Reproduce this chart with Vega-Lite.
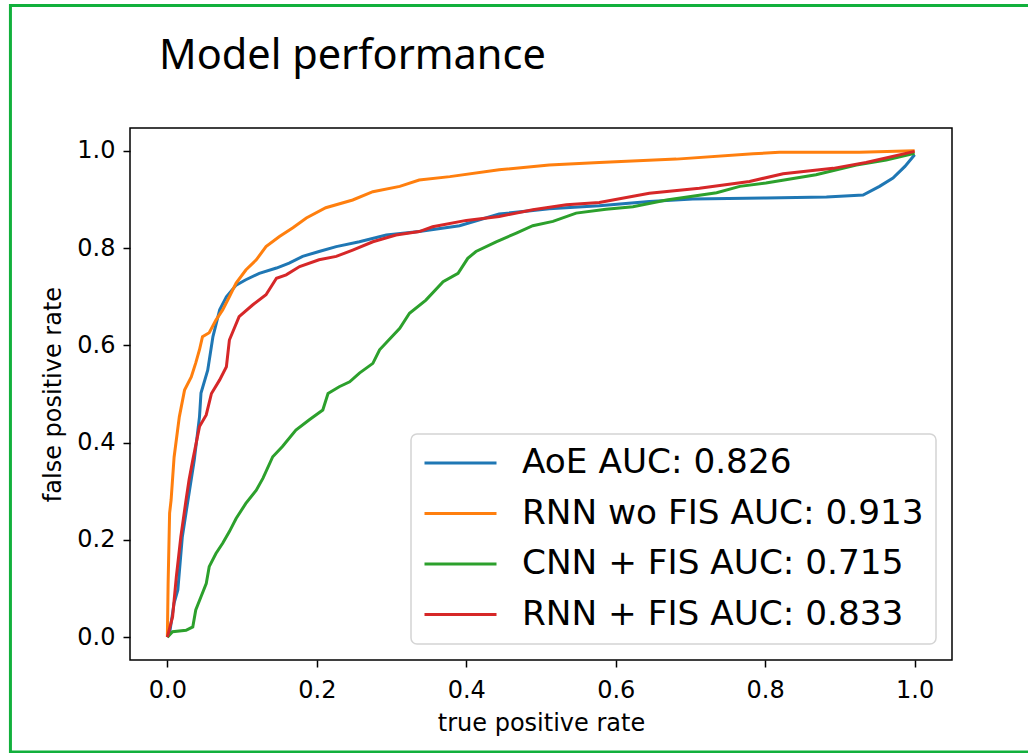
{
  "$schema": "https://vega.github.io/schema/vega-lite/v6.json",
  "width": 822,
  "height": 532,
  "autosize": {"type": "none"},
  "padding": {"left": 130, "top": 128, "right": 76, "bottom": 93},
  "background": "white",
  "title": {"text": "Model performance", "font": "Noto Sans", "fontSize": 41.5, "fontWeight": "normal", "color": "black", "anchor": "start", "frame": "group", "dx": 29, "baseline": "alphabetic", "offset": -107},
  "config": {
    "view": {"stroke": "black", "strokeWidth": 1.5},
    "axis": {"labelFont": "DejaVu Sans", "labelFontSize": 24, "labelColor": "black", "titleFont": "DejaVu Sans", "titleFontSize": 24, "titleFontWeight": "normal", "titleColor": "black", "tickColor": "black", "tickWidth": 1.5, "tickSize": 7, "domain": false, "grid": false, "labelFlush": false, "labelOverlap": false, "labelBound": false},
    "axisX": {"labelPadding": 11, "titlePadding": 9},
    "axisY": {"labelPadding": 8, "titlePadding": 11},
    "legend": {"orient": "bottom-right", "offset": 16, "padding": 12, "labelFont": "DejaVu Sans", "labelFontSize": 34.3, "labelColor": "black", "symbolType": "stroke", "symbolSize": 5184, "symbolStrokeWidth": 3, "clipHeight": 34, "labelOffset": 24, "rowPadding": 15.5, "fillColor": "rgba(255,255,255,0.8)", "strokeColor": "#d4d4d4", "strokeWidth": 1.5, "cornerRadius": 6, "labelLimit": 0}
  },
  "layer": [
    {
      "data": {"values": [
        {"model": "AoE AUC: 0.826", "tpr": 0, "fpr": 0},
        {"model": "AoE AUC: 0.826", "tpr": 0.003, "fpr": 0.008},
        {"model": "AoE AUC: 0.826", "tpr": 0.009, "fpr": 0.07},
        {"model": "AoE AUC: 0.826", "tpr": 0.014, "fpr": 0.097},
        {"model": "AoE AUC: 0.826", "tpr": 0.02, "fpr": 0.206},
        {"model": "AoE AUC: 0.826", "tpr": 0.027, "fpr": 0.276},
        {"model": "AoE AUC: 0.826", "tpr": 0.036, "fpr": 0.364},
        {"model": "AoE AUC: 0.826", "tpr": 0.043, "fpr": 0.453},
        {"model": "AoE AUC: 0.826", "tpr": 0.045, "fpr": 0.502},
        {"model": "AoE AUC: 0.826", "tpr": 0.054, "fpr": 0.549},
        {"model": "AoE AUC: 0.826", "tpr": 0.061, "fpr": 0.618},
        {"model": "AoE AUC: 0.826", "tpr": 0.07, "fpr": 0.673},
        {"model": "AoE AUC: 0.826", "tpr": 0.079, "fpr": 0.7},
        {"model": "AoE AUC: 0.826", "tpr": 0.092, "fpr": 0.724},
        {"model": "AoE AUC: 0.826", "tpr": 0.105, "fpr": 0.735},
        {"model": "AoE AUC: 0.826", "tpr": 0.123, "fpr": 0.748},
        {"model": "AoE AUC: 0.826", "tpr": 0.146, "fpr": 0.759},
        {"model": "AoE AUC: 0.826", "tpr": 0.163, "fpr": 0.769},
        {"model": "AoE AUC: 0.826", "tpr": 0.181, "fpr": 0.783},
        {"model": "AoE AUC: 0.826", "tpr": 0.203, "fpr": 0.793},
        {"model": "AoE AUC: 0.826", "tpr": 0.226, "fpr": 0.803},
        {"model": "AoE AUC: 0.826", "tpr": 0.257, "fpr": 0.813},
        {"model": "AoE AUC: 0.826", "tpr": 0.293, "fpr": 0.827},
        {"model": "AoE AUC: 0.826", "tpr": 0.337, "fpr": 0.834},
        {"model": "AoE AUC: 0.826", "tpr": 0.391, "fpr": 0.846},
        {"model": "AoE AUC: 0.826", "tpr": 0.444, "fpr": 0.87},
        {"model": "AoE AUC: 0.826", "tpr": 0.511, "fpr": 0.881},
        {"model": "AoE AUC: 0.826", "tpr": 0.578, "fpr": 0.887},
        {"model": "AoE AUC: 0.826", "tpr": 0.645, "fpr": 0.896},
        {"model": "AoE AUC: 0.826", "tpr": 0.703, "fpr": 0.901},
        {"model": "AoE AUC: 0.826", "tpr": 0.801, "fpr": 0.903},
        {"model": "AoE AUC: 0.826", "tpr": 0.882, "fpr": 0.905},
        {"model": "AoE AUC: 0.826", "tpr": 0.931, "fpr": 0.909},
        {"model": "AoE AUC: 0.826", "tpr": 0.953, "fpr": 0.927},
        {"model": "AoE AUC: 0.826", "tpr": 0.971, "fpr": 0.944},
        {"model": "AoE AUC: 0.826", "tpr": 0.987, "fpr": 0.968},
        {"model": "AoE AUC: 0.826", "tpr": 1.0, "fpr": 0.992},

        {"model": "RNN wo FIS AUC: 0.913", "tpr": 0, "fpr": 0},
        {"model": "RNN wo FIS AUC: 0.913", "tpr": 0.001, "fpr": 0.11},
        {"model": "RNN wo FIS AUC: 0.913", "tpr": 0.003, "fpr": 0.255},
        {"model": "RNN wo FIS AUC: 0.913", "tpr": 0.005, "fpr": 0.282},
        {"model": "RNN wo FIS AUC: 0.913", "tpr": 0.009, "fpr": 0.37},
        {"model": "RNN wo FIS AUC: 0.913", "tpr": 0.016, "fpr": 0.453},
        {"model": "RNN wo FIS AUC: 0.913", "tpr": 0.023, "fpr": 0.508},
        {"model": "RNN wo FIS AUC: 0.913", "tpr": 0.032, "fpr": 0.535},
        {"model": "RNN wo FIS AUC: 0.913", "tpr": 0.038, "fpr": 0.564},
        {"model": "RNN wo FIS AUC: 0.913", "tpr": 0.043, "fpr": 0.591},
        {"model": "RNN wo FIS AUC: 0.913", "tpr": 0.047, "fpr": 0.618},
        {"model": "RNN wo FIS AUC: 0.913", "tpr": 0.056, "fpr": 0.626},
        {"model": "RNN wo FIS AUC: 0.913", "tpr": 0.065, "fpr": 0.652},
        {"model": "RNN wo FIS AUC: 0.913", "tpr": 0.074, "fpr": 0.673},
        {"model": "RNN wo FIS AUC: 0.913", "tpr": 0.083, "fpr": 0.7},
        {"model": "RNN wo FIS AUC: 0.913", "tpr": 0.092, "fpr": 0.728},
        {"model": "RNN wo FIS AUC: 0.913", "tpr": 0.105, "fpr": 0.755},
        {"model": "RNN wo FIS AUC: 0.913", "tpr": 0.119, "fpr": 0.776},
        {"model": "RNN wo FIS AUC: 0.913", "tpr": 0.132, "fpr": 0.803},
        {"model": "RNN wo FIS AUC: 0.913", "tpr": 0.15, "fpr": 0.824},
        {"model": "RNN wo FIS AUC: 0.913", "tpr": 0.168, "fpr": 0.842},
        {"model": "RNN wo FIS AUC: 0.913", "tpr": 0.186, "fpr": 0.862},
        {"model": "RNN wo FIS AUC: 0.913", "tpr": 0.212, "fpr": 0.883},
        {"model": "RNN wo FIS AUC: 0.913", "tpr": 0.248, "fpr": 0.899},
        {"model": "RNN wo FIS AUC: 0.913", "tpr": 0.275, "fpr": 0.916},
        {"model": "RNN wo FIS AUC: 0.913", "tpr": 0.311, "fpr": 0.927},
        {"model": "RNN wo FIS AUC: 0.913", "tpr": 0.337, "fpr": 0.94},
        {"model": "RNN wo FIS AUC: 0.913", "tpr": 0.378, "fpr": 0.947},
        {"model": "RNN wo FIS AUC: 0.913", "tpr": 0.444, "fpr": 0.961},
        {"model": "RNN wo FIS AUC: 0.913", "tpr": 0.511, "fpr": 0.971},
        {"model": "RNN wo FIS AUC: 0.913", "tpr": 0.578, "fpr": 0.976},
        {"model": "RNN wo FIS AUC: 0.913", "tpr": 0.681, "fpr": 0.983},
        {"model": "RNN wo FIS AUC: 0.913", "tpr": 0.784, "fpr": 0.994},
        {"model": "RNN wo FIS AUC: 0.913", "tpr": 0.819, "fpr": 0.997},
        {"model": "RNN wo FIS AUC: 0.913", "tpr": 0.926, "fpr": 0.997},
        {"model": "RNN wo FIS AUC: 0.913", "tpr": 1.0, "fpr": 1.0},

        {"model": "CNN + FIS AUC: 0.715", "tpr": 0, "fpr": 0},
        {"model": "CNN + FIS AUC: 0.715", "tpr": 0.007, "fpr": 0.011},
        {"model": "CNN + FIS AUC: 0.715", "tpr": 0.025, "fpr": 0.014},
        {"model": "CNN + FIS AUC: 0.715", "tpr": 0.034, "fpr": 0.021},
        {"model": "CNN + FIS AUC: 0.715", "tpr": 0.038, "fpr": 0.056},
        {"model": "CNN + FIS AUC: 0.715", "tpr": 0.045, "fpr": 0.083},
        {"model": "CNN + FIS AUC: 0.715", "tpr": 0.052, "fpr": 0.11},
        {"model": "CNN + FIS AUC: 0.715", "tpr": 0.056, "fpr": 0.145},
        {"model": "CNN + FIS AUC: 0.715", "tpr": 0.065, "fpr": 0.172},
        {"model": "CNN + FIS AUC: 0.715", "tpr": 0.074, "fpr": 0.193},
        {"model": "CNN + FIS AUC: 0.715", "tpr": 0.083, "fpr": 0.217},
        {"model": "CNN + FIS AUC: 0.715", "tpr": 0.092, "fpr": 0.244},
        {"model": "CNN + FIS AUC: 0.715", "tpr": 0.105, "fpr": 0.275},
        {"model": "CNN + FIS AUC: 0.715", "tpr": 0.119, "fpr": 0.302},
        {"model": "CNN + FIS AUC: 0.715", "tpr": 0.128, "fpr": 0.327},
        {"model": "CNN + FIS AUC: 0.715", "tpr": 0.141, "fpr": 0.371},
        {"model": "CNN + FIS AUC: 0.715", "tpr": 0.154, "fpr": 0.392},
        {"model": "CNN + FIS AUC: 0.715", "tpr": 0.172, "fpr": 0.426},
        {"model": "CNN + FIS AUC: 0.715", "tpr": 0.19, "fpr": 0.447},
        {"model": "CNN + FIS AUC: 0.715", "tpr": 0.208, "fpr": 0.467},
        {"model": "CNN + FIS AUC: 0.715", "tpr": 0.215, "fpr": 0.501},
        {"model": "CNN + FIS AUC: 0.715", "tpr": 0.23, "fpr": 0.515},
        {"model": "CNN + FIS AUC: 0.715", "tpr": 0.244, "fpr": 0.525},
        {"model": "CNN + FIS AUC: 0.715", "tpr": 0.257, "fpr": 0.543},
        {"model": "CNN + FIS AUC: 0.715", "tpr": 0.275, "fpr": 0.563},
        {"model": "CNN + FIS AUC: 0.715", "tpr": 0.284, "fpr": 0.591},
        {"model": "CNN + FIS AUC: 0.715", "tpr": 0.311, "fpr": 0.635},
        {"model": "CNN + FIS AUC: 0.715", "tpr": 0.324, "fpr": 0.666},
        {"model": "CNN + FIS AUC: 0.715", "tpr": 0.346, "fpr": 0.693},
        {"model": "CNN + FIS AUC: 0.715", "tpr": 0.369, "fpr": 0.731},
        {"model": "CNN + FIS AUC: 0.715", "tpr": 0.389, "fpr": 0.748},
        {"model": "CNN + FIS AUC: 0.715", "tpr": 0.402, "fpr": 0.779},
        {"model": "CNN + FIS AUC: 0.715", "tpr": 0.413, "fpr": 0.793},
        {"model": "CNN + FIS AUC: 0.715", "tpr": 0.44, "fpr": 0.813},
        {"model": "CNN + FIS AUC: 0.715", "tpr": 0.467, "fpr": 0.831},
        {"model": "CNN + FIS AUC: 0.715", "tpr": 0.489, "fpr": 0.846},
        {"model": "CNN + FIS AUC: 0.715", "tpr": 0.516, "fpr": 0.855},
        {"model": "CNN + FIS AUC: 0.715", "tpr": 0.547, "fpr": 0.872},
        {"model": "CNN + FIS AUC: 0.715", "tpr": 0.587, "fpr": 0.88},
        {"model": "CNN + FIS AUC: 0.715", "tpr": 0.623, "fpr": 0.885},
        {"model": "CNN + FIS AUC: 0.715", "tpr": 0.668, "fpr": 0.899},
        {"model": "CNN + FIS AUC: 0.715", "tpr": 0.735, "fpr": 0.914},
        {"model": "CNN + FIS AUC: 0.715", "tpr": 0.766, "fpr": 0.927},
        {"model": "CNN + FIS AUC: 0.715", "tpr": 0.801, "fpr": 0.934},
        {"model": "CNN + FIS AUC: 0.715", "tpr": 0.868, "fpr": 0.951},
        {"model": "CNN + FIS AUC: 0.715", "tpr": 0.922, "fpr": 0.971},
        {"model": "CNN + FIS AUC: 0.715", "tpr": 0.962, "fpr": 0.981},
        {"model": "CNN + FIS AUC: 0.715", "tpr": 1.0, "fpr": 0.995},

        {"model": "RNN + FIS AUC: 0.833", "tpr": 0, "fpr": 0},
        {"model": "RNN + FIS AUC: 0.833", "tpr": 0.007, "fpr": 0.042},
        {"model": "RNN + FIS AUC: 0.833", "tpr": 0.012, "fpr": 0.124},
        {"model": "RNN + FIS AUC: 0.833", "tpr": 0.018, "fpr": 0.206},
        {"model": "RNN + FIS AUC: 0.833", "tpr": 0.025, "fpr": 0.282},
        {"model": "RNN + FIS AUC: 0.833", "tpr": 0.029, "fpr": 0.323},
        {"model": "RNN + FIS AUC: 0.833", "tpr": 0.034, "fpr": 0.364},
        {"model": "RNN + FIS AUC: 0.833", "tpr": 0.043, "fpr": 0.433},
        {"model": "RNN + FIS AUC: 0.833", "tpr": 0.052, "fpr": 0.457},
        {"model": "RNN + FIS AUC: 0.833", "tpr": 0.059, "fpr": 0.501},
        {"model": "RNN + FIS AUC: 0.833", "tpr": 0.07, "fpr": 0.529},
        {"model": "RNN + FIS AUC: 0.833", "tpr": 0.079, "fpr": 0.556},
        {"model": "RNN + FIS AUC: 0.833", "tpr": 0.083, "fpr": 0.611},
        {"model": "RNN + FIS AUC: 0.833", "tpr": 0.096, "fpr": 0.659},
        {"model": "RNN + FIS AUC: 0.833", "tpr": 0.114, "fpr": 0.683},
        {"model": "RNN + FIS AUC: 0.833", "tpr": 0.132, "fpr": 0.704},
        {"model": "RNN + FIS AUC: 0.833", "tpr": 0.146, "fpr": 0.738},
        {"model": "RNN + FIS AUC: 0.833", "tpr": 0.159, "fpr": 0.745},
        {"model": "RNN + FIS AUC: 0.833", "tpr": 0.177, "fpr": 0.762},
        {"model": "RNN + FIS AUC: 0.833", "tpr": 0.203, "fpr": 0.776},
        {"model": "RNN + FIS AUC: 0.833", "tpr": 0.226, "fpr": 0.783},
        {"model": "RNN + FIS AUC: 0.833", "tpr": 0.248, "fpr": 0.796},
        {"model": "RNN + FIS AUC: 0.833", "tpr": 0.275, "fpr": 0.813},
        {"model": "RNN + FIS AUC: 0.833", "tpr": 0.306, "fpr": 0.827},
        {"model": "RNN + FIS AUC: 0.833", "tpr": 0.337, "fpr": 0.834},
        {"model": "RNN + FIS AUC: 0.833", "tpr": 0.355, "fpr": 0.844},
        {"model": "RNN + FIS AUC: 0.833", "tpr": 0.4, "fpr": 0.857},
        {"model": "RNN + FIS AUC: 0.833", "tpr": 0.444, "fpr": 0.865},
        {"model": "RNN + FIS AUC: 0.833", "tpr": 0.489, "fpr": 0.879},
        {"model": "RNN + FIS AUC: 0.833", "tpr": 0.534, "fpr": 0.889},
        {"model": "RNN + FIS AUC: 0.833", "tpr": 0.578, "fpr": 0.894},
        {"model": "RNN + FIS AUC: 0.833", "tpr": 0.645, "fpr": 0.913},
        {"model": "RNN + FIS AUC: 0.833", "tpr": 0.712, "fpr": 0.923},
        {"model": "RNN + FIS AUC: 0.833", "tpr": 0.779, "fpr": 0.937},
        {"model": "RNN + FIS AUC: 0.833", "tpr": 0.824, "fpr": 0.953},
        {"model": "RNN + FIS AUC: 0.833", "tpr": 0.891, "fpr": 0.964},
        {"model": "RNN + FIS AUC: 0.833", "tpr": 0.935, "fpr": 0.976},
        {"model": "RNN + FIS AUC: 0.833", "tpr": 1.0, "fpr": 0.999}
      ]},
      "mark": {"type": "line", "strokeWidth": 3},
      "encoding": {
        "x": {"field": "tpr", "type": "quantitative", "title": "true positive rate", "scale": {"domain": [-0.05, 1.05], "nice": false, "zero": false}, "axis": {"values": [0, 0.2, 0.4, 0.6, 0.8, 1.0], "format": ".1f"}},
        "y": {"field": "fpr", "type": "quantitative", "title": "false positive rate", "scale": {"domain": [-0.047, 1.047], "nice": false, "zero": false}, "axis": {"values": [0, 0.2, 0.4, 0.6, 0.8, 1.0], "format": ".1f"}},
        "color": {"field": "model", "type": "nominal", "scale": {"domain": ["AoE AUC: 0.826", "RNN wo FIS AUC: 0.913", "CNN + FIS AUC: 0.715", "RNN + FIS AUC: 0.833"], "range": ["#1f77b4", "#ff7f0e", "#2ca02c", "#d62728"]}, "legend": {"title": null}}
      }
    },
    {
      "data": {"values": [{}]},
      "mark": {"type": "rect", "filled": false, "stroke": "#12b03c", "strokeWidth": 3, "clip": false},
      "encoding": {
        "x": {"datum": -0.21, "type": "quantitative", "title": "true positive rate"},
        "x2": {"datum": 1.17},
        "y": {"datum": 1.299, "type": "quantitative", "title": "false positive rate"},
        "y2": {"datum": -0.236}
      }
    }
  ]
}
